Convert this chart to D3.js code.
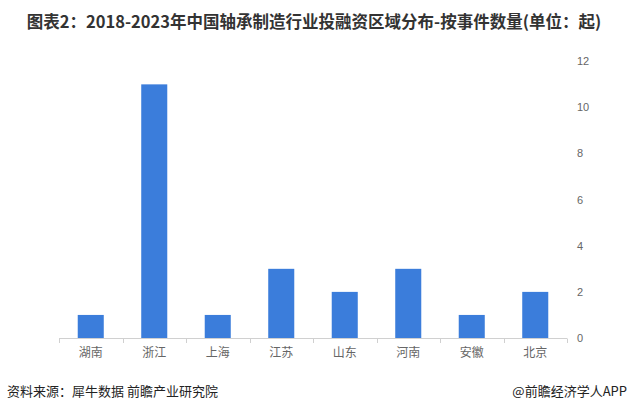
<!DOCTYPE html>
<html><head><meta charset="utf-8">
<script src="https://cdn.jsdelivr.net/npm/d3@7"></script>
<style>
html,body{margin:0;padding:0;background:#fff;}
svg{display:block;font-family:"Noto Sans CJK SC","Microsoft YaHei",sans-serif;}
</style></head>
<body>
<svg id="c" width="629" height="412"></svg>
<script>
const categories = ["湖南","浙江","上海","江苏","山东","河南","安徽","北京"];
const values = [1, 11, 1, 3, 2, 3, 1, 2];
const yTicks = [0, 2, 4, 6, 8, 10, 12];
const titleText = "图表2：2018-2023年中国轴承制造行业投融资区域分布-按事件数量(单位：起)";
const sourceText = "资料来源：犀牛数据 前瞻产业研究院";
const brandText = "@前瞻经济学人APP";

const svg = d3.select("#c");
const x = d3.scaleBand().domain(categories).range([59, 567]).paddingInner(0.59).paddingOuter(0.295);
const y = d3.scaleLinear().domain([0, 12]).range([338, 61.3]);

// title
svg.append("text").attr("x", 314).attr("y", 28).attr("text-anchor", "middle")
  .attr("font-size", 16.5).attr("font-weight", "bold").attr("fill", "#333")
  .text(titleText);

// bars
svg.append("g").selectAll("rect").data(values).join("rect")
  .attr("x", (d, i) => x(categories[i]))
  .attr("width", x.bandwidth())
  .attr("y", d => y(d))
  .attr("height", d => y(0) - y(d))
  .attr("fill", "#3b7ddb");

// x axis
const xb = d3.scaleBand().domain(categories).range([59, 567]);
const xAxis = svg.append("g").attr("transform", "translate(0,338)");
xAxis.append("line").attr("x1", 59).attr("x2", 567).attr("y1", 0.5).attr("y2", 0.5).attr("stroke", "#d0d0d0");
const bounds = categories.map(c => xb(c)).concat([567]);
xAxis.selectAll("line.t").data(bounds).join("line").attr("class", "t")
  .attr("x1", d => Math.round(d) + 0.5).attr("x2", d => Math.round(d) + 0.5)
  .attr("y1", 0.5).attr("y2", 5).attr("stroke", "#d0d0d0");
xAxis.selectAll("text").data(categories).join("text")
  .attr("x", d => xb(d) + xb.bandwidth() / 2).attr("y", 19)
  .attr("text-anchor", "middle").attr("font-size", 12).attr("fill", "#666")
  .text(d => d);

// y axis (right)
svg.append("g").selectAll("text").data(yTicks).join("text")
  .attr("x", 577).attr("y", d => y(d)).attr("dy", "0.35em")
  .attr("font-size", 11).attr("fill", "#666").attr("font-family", "Arial, 'Liberation Sans', sans-serif")
  .text(d => d);

// footer
svg.append("text").attr("x", 7).attr("y", 396).attr("font-size", 13).attr("fill", "#222").text(sourceText);
svg.append("text").attr("x", 627).attr("y", 396).attr("text-anchor", "end").attr("font-size", 13).attr("fill", "#222").text(brandText);
</script>
</body></html>
